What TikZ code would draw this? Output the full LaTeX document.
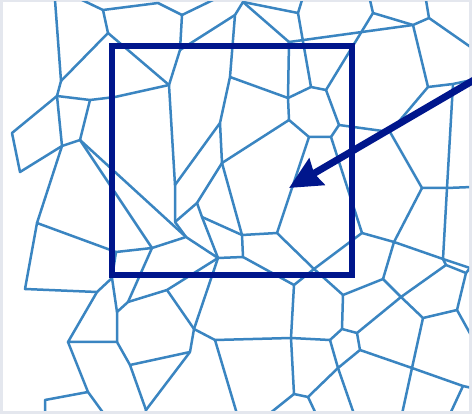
\documentclass[tikz,border=0pt]{standalone}
\usetikzlibrary{arrows.meta}
\definecolor{meshblue}{RGB}{58,133,193}
\definecolor{navy}{RGB}{0,22,140}
\definecolor{edgegray}{RGB}{228,231,238}
\tikzset{
  mesh/.style={draw=meshblue, line width=2.5pt, line join=round, line cap=round},
  framebox/.style={draw=navy, line width=6pt},
  bigarrow/.style={draw=navy, line width=7pt, -{Stealth[length=32pt,width=30pt,inset=3pt]}}
}
\begin{document}
\begin{tikzpicture}[x=1pt,y=-1pt]
\useasboundingbox (0,0) rectangle (472,414);
\fill[white] (0,0) rectangle (472,414);
\fill[edgegray] (0,0) rectangle (3,414);
\fill[edgegray] (0,0) rectangle (472,2);
\fill[edgegray] (0,411) rectangle (472,414);
\fill[edgegray] (469,0) rectangle (472,414);
\begin{scope}
\clip (3,2) rectangle (469,411);
% top-left
\path[mesh] (55,0)--(61,81)--(57,96);
\path[mesh] (61,81)--(108,33)--(103,10);
\path[mesh] (82,0)--(103,10)--(158,3)--(182,15);
\path[mesh] (182,15)--(213,0);
\path[mesh] (182,15)--(180,50)--(169,85);
\path[mesh] (180,50)--(235,15)--(243,2);
\path[mesh] (243,2)--(298,13)--(302,0);
\path[mesh] (243,2)--(289,42);
\path[mesh] (235,15)--(230,77)--(220,123)--(222,163);
\path[mesh] (230,77)--(288,98);
\path[mesh] (108,33)--(169,85);
\path[mesh] (57,96)--(90,100)--(115,97)--(169,85);
\path[mesh] (169,85)--(175,185)--(175,222);
\path[mesh] (175,185)--(220,123);
\path[mesh] (222,163)--(197,203)--(175,222);
\path[mesh] (197,203)--(202,217)--(242,235);
\path[mesh] (222,163)--(242,235);
\path[mesh] (222,163)--(289,120);
\path[mesh] (202,217)--(218,258);
\path[mesh] (175,222)--(186,237);
% left
\path[mesh] (57,96)--(12,133)--(20,172)--(62,146)--cycle;
\path[mesh] (62,146)--(80,140)--(90,100);
\path[mesh] (62,146)--(37,223)--(25,289)--(97,292)--(112,278);
\path[mesh] (37,223)--(116,252)--(152,248);
\path[mesh] (116,252)--(112,278)--(117,312);
\path[mesh] (80,140)--(186,237);
\path[mesh] (80,140)--(152,248);
\path[mesh] (152,248)--(186,237)--(218,258);
\path[mesh] (152,248)--(128,302)--(117,312)--(117,342);
\path[mesh] (128,302)--(167,290)--(218,258);
\path[mesh] (167,290)--(194,329);
\path[mesh] (218,258)--(194,329);
\path[mesh] (218,258)--(243,257);
\path[mesh] (194,329)--(190,352)--(130,365)--(117,342)--(68,342)--(97,292);
\path[mesh] (130,365)--(146,410)--(145,414);
\path[mesh] (190,352)--(146,410);
\path[mesh] (194,329)--(215,340)--(291,338)--(330,340);
\path[mesh] (215,340)--(237,414);
\path[mesh] (68,342)--(88,392)--(104,414);
\path[mesh] (88,392)--(45,400)--(45,414);
% middle
\path[mesh] (288,98)--(311,87)--(326,90)--(339,125)--(331,137)--(309,137)--(289,120)--cycle;
\path[mesh] (288,98)--(289,42);
\path[mesh] (311,87)--(298,13);
\path[mesh] (326,90)--(373,13)--(370,0);
\path[mesh] (289,42)--(413,25);
\path[mesh] (373,13)--(413,25)--(429,18)--(426,0);
\path[mesh] (429,18)--(472,48);
\path[mesh] (413,25)--(428,87)--(453,84)--(472,80);
\path[mesh] (453,84)--(447,188);
\path[mesh] (339,125)--(390,132)--(428,87);
\path[mesh] (390,132)--(422,188)--(447,188)--(472,187);
\path[mesh] (422,188)--(394,242);
\path[mesh] (331,137)--(362,233);
\path[mesh] (309,137)--(277,233);
\path[mesh] (242,235)--(277,233)--(314,269);
\path[mesh] (242,235)--(243,257)--(294,285)--(314,269)--(362,233)--(394,242);
\path[mesh] (294,285)--(291,338)--(294,394)--(308,397)--(338,368);
\path[mesh] (294,394)--(269,414);
\path[mesh] (308,397)--(316,414);
\path[mesh] (338,368)--(354,414);
\path[mesh] (330,340)--(342,329)--(357,333)--(360,350)--(338,368)--cycle;
\path[mesh] (314,269)--(343,295)--(342,329);
\path[mesh] (343,295)--(383,279)--(394,242);
\path[mesh] (383,279)--(401,297)--(423,318)--(457,310)--(472,337);
\path[mesh] (357,333)--(401,297)--(446,265);
\path[mesh] (447,188)--(443,259)--(470,268)--(472,268);
\path[mesh] (443,259)--(446,265)--(466,273)--(470,268);
\path[mesh] (466,273)--(457,310);
\path[mesh] (394,242)--(443,259);
\path[mesh] (423,318)--(412,368)--(360,350);
\path[mesh] (412,368)--(463,386)--(472,388);
\path[mesh] (412,368)--(402,414);
\path[mesh] (463,386)--(450,414);
\end{scope}
% highlight frame and arrow
\path[framebox] (112,46) rectangle (352,275);
\coordinate (arrowstart) at (474,80);
\coordinate (arrowtip) at (289,188);
\begin{scope}
\clip (0,0) rectangle (472,414);
\path[bigarrow] (arrowstart) -- (arrowtip);
\end{scope}
\end{tikzpicture}
\end{document}
